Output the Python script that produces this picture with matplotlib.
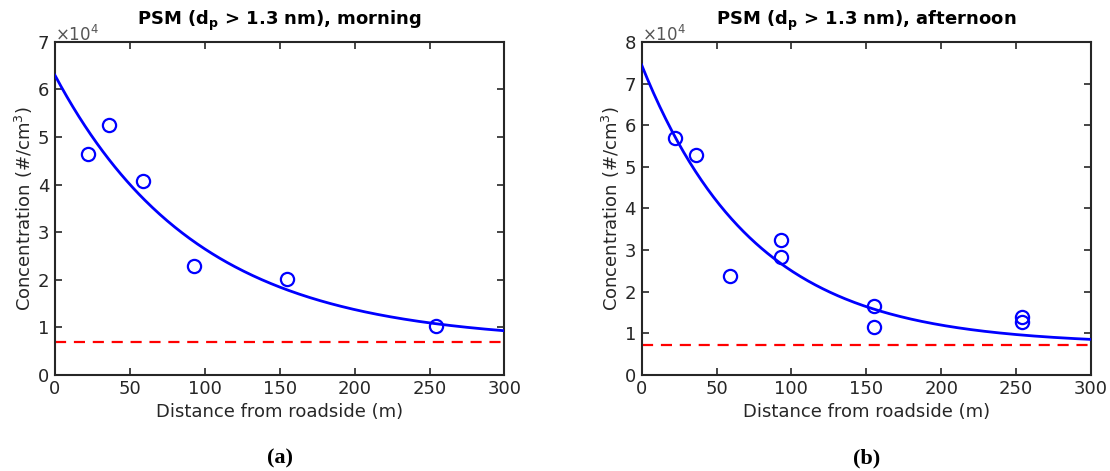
import numpy as np
import matplotlib.pyplot as plt

plt.rcParams['font.family'] = 'DejaVu Sans'
plt.rcParams['mathtext.fontset'] = 'dejavusans'

# morning data (concentration in units of 1e4 #/cm3)
dist_morning = [22, 36, 59, 93, 155, 254]
conc_morning = [4.65, 5.25, 4.08, 2.30, 2.02, 1.02]
# exponential fit: y = a*exp(-x/L) + b
fit_morning = (5.61, 95.0, 0.69)
bg_morning = 0.69

# afternoon data
dist_afternoon = [22, 36, 59, 93, 93, 155, 155, 254, 254]
conc_afternoon = [5.70, 5.28, 2.37, 3.23, 2.84, 1.66, 1.14, 1.40, 1.27]
fit_afternoon = (6.72, 75.0, 0.73)
bg_afternoon = 0.73

titles = ['morning', 'afternoon']
ymax = [7, 8]
captions = ['(a)', '(b)']

dark = '#262626'

fig = plt.figure(figsize=(11.1, 4.71), dpi=100)
ax1 = fig.add_axes([0.0495, 0.204, 0.405, 0.707])
ax2 = fig.add_axes([0.578, 0.204, 0.405, 0.707])

panels = [
    (ax1, dist_morning, conc_morning, fit_morning, bg_morning),
    (ax2, dist_afternoon, conc_afternoon, fit_afternoon, bg_afternoon),
]

xs = np.linspace(0, 300, 301)
for i, (ax, d, c, fit, bg) in enumerate(panels):
    a, L, b = fit
    ax.plot(xs, a * np.exp(-xs / L) + b, color='#0000ff', lw=2, zorder=3)
    ax.plot(d, c, 'o', mfc='none', mec='#0000ff', ms=9.5, mew=1.6, zorder=4)
    ax.axhline(bg, color='#ff0000', ls=(0, (5, 3.5)), lw=1.6, zorder=2)

    ax.set_xlim(0, 300)
    ax.set_ylim(0, ymax[i])
    ax.set_xticks(np.arange(0, 301, 50))
    ax.set_yticks(np.arange(0, ymax[i] + 1, 1))
    ax.tick_params(direction='in', top=True, right=True, length=5, width=1.2,
                   labelsize=13, colors=dark, pad=4)
    for sp in ax.spines.values():
        sp.set_color(dark)
        sp.set_linewidth(1.5)

    ax.set_xlabel('Distance from roadside (m)', fontsize=13, color=dark, labelpad=3)
    ax.set_ylabel('Concentration (#/cm$^3$)', fontsize=13, color=dark, labelpad=2)
    ax.set_title(r'PSM (d$_{\bf p}$ > 1.3 nm), ' + titles[i], fontsize=13,
                 fontweight='bold', pad=12)
    ax.text(0.0, 0.99, r'$\times$10$^4$', transform=ax.transAxes, fontsize=12,
            color='#555555', ha='left', va='bottom')
    ax.text(0.5, -0.25, captions[i], transform=ax.transAxes, fontsize=16,
            fontweight='bold', family='Liberation Serif', ha='center', va='center')

fig.savefig('out.png', dpi=100)
